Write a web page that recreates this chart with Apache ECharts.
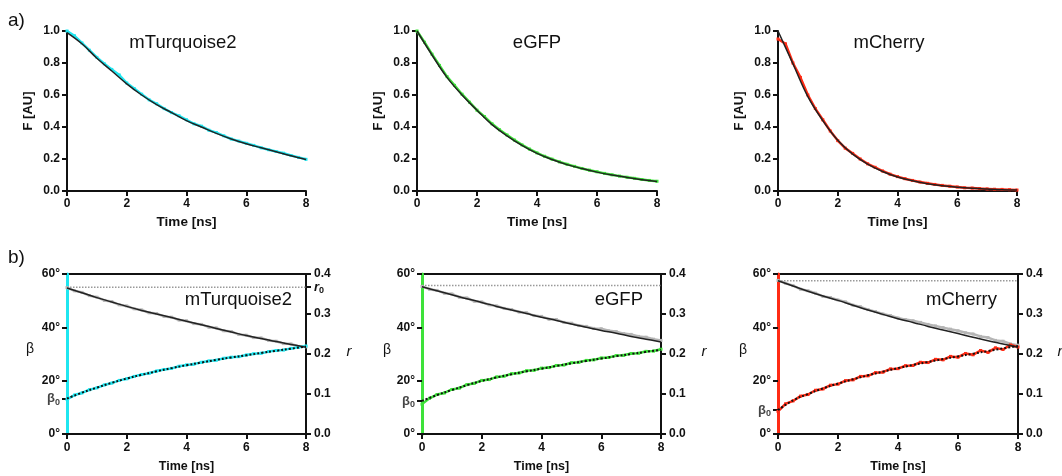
<!DOCTYPE html>
<html>
<head>
<meta charset="utf-8">
<script src="https://cdn.jsdelivr.net/npm/echarts@6/dist/echarts.min.js"></script>
<style>
  html, body { margin: 0; padding: 0; background: #fff; }
  #chart { width: 1062px; height: 476px; }
</style>
</head>
<body>
<div id="chart"></div>
<script>
const FONT = 'Liberation Sans, Arial, Helvetica, sans-serif'

const proteins = ['mTurquoise2', 'eGFP', 'mCherry']
const colors = ['#1fe6f0', '#3ee23a', '#ff2b14']

// time points (ns)
const tData = [0, 0.25, 0.5, 0.75, 1, 1.25, 1.5, 1.75, 2, 2.25, 2.5, 2.75, 3, 3.25, 3.5, 3.75, 4,
  4.25, 4.5, 4.75, 5, 5.25, 5.5, 5.75, 6, 6.25, 6.5, 6.75, 7, 7.25, 7.5, 7.75, 8]
const tFit = [0, 0.5, 1, 1.5, 2, 2.5, 3, 3.5, 4, 4.5, 5, 5.5, 6, 6.5, 7, 7.5, 8]

// a) fluorescence decays
const fDataTurq = [1.00, 0.97, 0.925, 0.88, 0.835, 0.795, 0.76, 0.725, 0.675, 0.64, 0.605, 0.57, 0.545, 0.515, 0.49, 0.47, 0.445,
  0.42, 0.405, 0.38, 0.365, 0.345, 0.325, 0.312, 0.298, 0.285, 0.27, 0.258, 0.247, 0.236, 0.222, 0.21, 0.198]
const fFitTurq = [0.99, 0.92, 0.83, 0.75, 0.67, 0.60, 0.54, 0.49, 0.44, 0.40, 0.36, 0.325, 0.295, 0.27, 0.245, 0.22, 0.197]

const fDataEgfp = [1.0, 0.93, 0.855, 0.785, 0.715, 0.66, 0.605, 0.555, 0.505, 0.465, 0.42, 0.383, 0.35, 0.318, 0.288, 0.262, 0.238,
  0.217, 0.199, 0.182, 0.167, 0.154, 0.141, 0.13, 0.12, 0.11, 0.101, 0.093, 0.086, 0.079, 0.072, 0.066, 0.061]
const fFitEgfp = [1.0, 0.85, 0.71, 0.60, 0.505, 0.415, 0.345, 0.285, 0.235, 0.197, 0.165, 0.14, 0.118, 0.10, 0.085, 0.071, 0.06]

const fDataCherry = [0.95, 0.92, 0.80, 0.71, 0.60, 0.515, 0.445, 0.375, 0.315, 0.268, 0.235, 0.2, 0.17, 0.148, 0.125, 0.105, 0.09,
  0.077, 0.066, 0.056, 0.048, 0.041, 0.035, 0.03, 0.025, 0.02, 0.018, 0.015, 0.013, 0.011, 0.01, 0.008, 0.006]
const fFitCherry = [1.0, 0.795, 0.59, 0.44, 0.317, 0.23, 0.168, 0.122, 0.088, 0.064, 0.046, 0.033, 0.024, 0.017, 0.012, 0.008, 0.006]

// b) anisotropy r (right axis) and angle beta (left axis)
const rDataTurq = [0.366, 0.358, 0.354, 0.346, 0.342, 0.334, 0.331, 0.323, 0.320, 0.313, 0.310, 0.303, 0.301, 0.294, 0.292, 0.285, 0.283,
  0.276, 0.274, 0.267, 0.265, 0.258, 0.256, 0.249, 0.247, 0.241, 0.240, 0.234, 0.232, 0.226, 0.225, 0.219, 0.218]
const rFitTurq = [0.365, 0.353, 0.341, 0.330, 0.319, 0.309, 0.300, 0.291, 0.282, 0.273, 0.264, 0.255, 0.246, 0.239, 0.231, 0.224, 0.217]
const bDataTurq = [13.0, 14.6, 15.4, 16.6, 17.3, 18.4, 19.1, 20.1, 20.7, 21.6, 22.3, 22.8, 23.6, 24.2, 24.6, 25.4, 25.9,
  26.2, 26.9, 27.4, 27.7, 28.4, 28.8, 29.0, 29.6, 30.1, 30.3, 30.9, 31.3, 31.5, 32.1, 32.5, 33.0]
const bFitTurq = [13.3, 15.5, 17.4, 19.2, 20.8, 22.2, 23.5, 24.7, 25.8, 26.8, 27.8, 28.7, 29.5, 30.4, 31.2, 32.0, 32.8]

const rDataEgfp = [0.369, 0.362, 0.359, 0.352, 0.350, 0.342, 0.340, 0.332, 0.330, 0.323, 0.320, 0.314, 0.311, 0.305, 0.303, 0.296, 0.294,
  0.287, 0.286, 0.279, 0.277, 0.271, 0.269, 0.264, 0.263, 0.258, 0.256, 0.251, 0.249, 0.244, 0.242, 0.237, 0.234]
const rFitEgfp = [0.368, 0.358, 0.348, 0.338, 0.329, 0.319, 0.310, 0.301, 0.292, 0.284, 0.275, 0.267, 0.259, 0.252, 0.244, 0.237, 0.230]
const bDataEgfp = [11.2, 13.4, 14.8, 15.4, 16.7, 17.2, 18.5, 19.0, 20.1, 20.4, 21.4, 21.7, 22.6, 22.9, 23.7, 23.9, 24.7,
  24.9, 25.7, 25.9, 26.7, 26.9, 27.6, 27.8, 28.5, 28.7, 29.4, 29.5, 30.2, 30.3, 31.0, 31.1, 31.8]
const bFitEgfp = [12.4, 14.6, 16.5, 18.3, 19.9, 21.2, 22.4, 23.5, 24.5, 25.5, 26.5, 27.4, 28.3, 29.2, 30.0, 30.8, 31.6]

const rDataCherry = [0.384, 0.377, 0.371, 0.362, 0.358, 0.352, 0.344, 0.341, 0.335, 0.330, 0.322, 0.318, 0.311, 0.306, 0.300, 0.296, 0.290,
  0.286, 0.283, 0.279, 0.274, 0.270, 0.266, 0.262, 0.258, 0.253, 0.250, 0.244, 0.241, 0.234, 0.232, 0.225, 0.222]
const rFitCherry = [0.383, 0.370, 0.357, 0.345, 0.334, 0.322, 0.310, 0.299, 0.288, 0.279, 0.269, 0.260, 0.251, 0.242, 0.233, 0.225, 0.217]
const bDataCherry = [8.5, 11.3, 12.4, 14.2, 14.8, 16.4, 16.9, 18.3, 18.7, 20.0, 20.3, 21.6, 21.8, 23.0, 23.2, 24.4, 24.5,
  25.6, 25.7, 26.9, 26.8, 28.0, 27.8, 29.1, 28.8, 30.2, 29.7, 31.3, 30.6, 32.3, 31.7, 33.4, 32.6]
const bFitCherry = [9.0, 12.6, 15.0, 17.1, 18.9, 20.5, 22.0, 23.4, 24.7, 25.9, 27.0, 28.1, 29.1, 30.1, 31.1, 32.1, 33.0]

const beta0 = [13.3, 12.4, 9.0]
const r0 = [0.367, 0.371, 0.383]

const fData = [fDataTurq, fDataEgfp, fDataCherry]
const fFit = [fFitTurq, fFitEgfp, fFitCherry]
const rData = [rDataTurq, rDataEgfp, rDataCherry]
const rFit = [rFitTurq, rFitEgfp, rFitCherry]
const bData = [bDataTurq, bDataEgfp, bDataCherry]
const bFit = [bFitTurq, bFitEgfp, bFitCherry]

const pairs = (xs, ys) => xs.map((x, i) => [x, ys[i]])

const black = '#111'
const tickLabel = { color: black, fontWeight: 'bold', fontSize: 12, fontFamily: FONT, margin: 7 }

const grids = [
  { left: 67, top: 31, width: 239, height: 160 },
  { left: 417, top: 31, width: 240, height: 160 },
  { left: 778, top: 31, width: 239, height: 160 },
  { left: 67, top: 274, width: 239, height: 160, show: true, borderColor: black, borderWidth: 2 },
  { left: 422, top: 274, width: 239, height: 160, show: true, borderColor: black, borderWidth: 2 },
  { left: 778, top: 274, width: 240, height: 160, show: true, borderColor: black, borderWidth: 2 }
]

const xAxes = grids.map((g, i) => ({
  gridIndex: i,
  type: 'value',
  min: 0,
  max: 8,
  interval: 2,
  axisLine: { lineStyle: { color: black, width: 2 } },
  axisTick: { length: 5, lineStyle: { color: black, width: 2 } },
  axisLabel: i < 3 ? tickLabel : Object.assign({}, tickLabel, { margin: 8 }),
  splitLine: { show: false },
  name: 'Time [ns]',
  nameLocation: 'middle',
  nameGap: i < 3 ? 24 : 26,
  nameTextStyle: { color: black, fontWeight: 'bold', fontSize: i < 3 ? 13.5 : 12.5, fontFamily: FONT }
}))

const yAxes = []
// top: F [AU]
for (let i = 0; i < 3; i++) {
  yAxes.push({
    gridIndex: i,
    type: 'value',
    min: 0,
    max: 1,
    interval: 0.2,
    axisLine: { show: true, lineStyle: { color: black, width: 2 } },
    axisTick: { show: true, length: 5, lineStyle: { color: black, width: 2 } },
    axisLabel: Object.assign({}, tickLabel, { formatter: v => v.toFixed(1) }),
    splitLine: { show: false },
    name: 'F [AU]',
    nameLocation: 'middle',
    nameGap: 32,
    nameTextStyle: { color: black, fontWeight: 'bold', fontSize: 13, fontFamily: FONT }
  })
}
// bottom left: beta
for (let i = 0; i < 3; i++) {
  const ticks = [0, beta0[i], 20, 40, 60]
  yAxes.push({
    gridIndex: i + 3,
    type: 'value',
    position: 'left',
    min: 0,
    max: 60,
    interval: 20,
    axisLine: { show: true, lineStyle: { color: colors[i], width: 3 } },
    axisTick: { show: true, customValues: ticks, length: 5, lineStyle: { color: black, width: 2 } },
    axisLabel: Object.assign({}, tickLabel, {
      customValues: ticks,
      formatter: v => v === beta0[i] ? '{b|β}{s|0}' : v + '°',
      rich: {
        b: { fontSize: 13, color: '#444', fontFamily: FONT },
        s: { fontSize: 9, color: '#444', fontFamily: FONT, padding: [7, 0, 0, 0] }
      }
    }),
    splitLine: { show: false }
  })
}
// bottom right: r
for (let i = 0; i < 3; i++) {
  const ticks = [0, 0.1, 0.2, 0.3, 0.4, r0[i]]
  yAxes.push({
    gridIndex: i + 3,
    type: 'value',
    position: 'right',
    min: 0,
    max: 0.4,
    interval: 0.1,
    axisLine: { show: true, lineStyle: { color: black, width: 2 } },
    axisTick: { show: true, customValues: ticks, length: 5, lineStyle: { color: black, width: 2 } },
    axisLabel: Object.assign({}, tickLabel, {
      margin: 8,
      customValues: ticks,
      formatter: v => v === r0[i] ? '{r|r}{s|0}' : v.toFixed(1),
      rich: {
        r: { fontSize: 13, fontStyle: 'italic', color: black, fontFamily: FONT },
        s: { fontSize: 9, color: black, fontFamily: FONT, padding: [6, 0, 0, 0] }
      }
    }),
    splitLine: { show: false }
  })
}

// data drawn at z 2, fits above at z 3
const series = []
for (let i = 0; i < 3; i++) {
  series.push({
    type: 'line', xAxisIndex: i, yAxisIndex: i, z: 2,
    data: pairs(tData, fData[i]),
    symbol: 'rect', symbolSize: 3, showSymbol: true,
    itemStyle: { color: colors[i] },
    lineStyle: { color: colors[i], width: 2.5 }
  })
  series.push({
    type: 'line', xAxisIndex: i, yAxisIndex: i, z: 3,
    data: pairs(tFit, fFit[i]),
    smooth: 0.4, symbol: 'none',
    lineStyle: { color: '#222', width: 1.5 }
  })
}
for (let i = 0; i < 3; i++) {
  const g = i + 3
  series.push({
    type: 'line', xAxisIndex: g, yAxisIndex: i + 6, z: 2,
    data: [[0, r0[i]], [8, r0[i]]],
    symbol: 'none',
    lineStyle: { color: '#999', width: 1.5, type: 'dotted' }
  })
  series.push({
    type: 'line', xAxisIndex: g, yAxisIndex: i + 6, z: 2,
    data: pairs(tData, rData[i]),
    symbol: 'rect', symbolSize: 3, showSymbol: true,
    itemStyle: { color: '#b5b5b5' },
    lineStyle: { color: '#b5b5b5', width: 2.5 }
  })
  series.push({
    type: 'line', xAxisIndex: g, yAxisIndex: i + 6, z: 3,
    data: pairs(tFit, rFit[i]),
    smooth: 0.4, symbol: 'none',
    lineStyle: { color: '#222', width: 1.5 }
  })
  series.push({
    type: 'line', xAxisIndex: g, yAxisIndex: i + 3, z: 2,
    data: pairs(tData, bData[i]),
    symbol: 'rect', symbolSize: 3, showSymbol: true,
    itemStyle: { color: colors[i] },
    lineStyle: { color: colors[i], width: 2.5 }
  })
  series.push({
    type: 'line', xAxisIndex: g, yAxisIndex: i + 3, z: 3,
    data: pairs(tFit, bFit[i]),
    smooth: 0.4, symbol: 'none',
    lineStyle: { color: '#111', width: 2, type: 'dotted' }
  })
}

const text = (x, y, str, font, align) => ({
  type: 'text', x, y, silent: true,
  style: { text: str, font: font + ' ' + FONT, fill: black, align: align || 'center', verticalAlign: 'middle' }
})

const graphic = [
  text(8, 21, 'a)', '19px', 'left'),
  text(8, 258, 'b)', '19px', 'left'),
  text(183, 43, proteins[0], '18.5px'),
  text(537, 43, proteins[1], '18.5px'),
  text(889, 43, proteins[2], '18.5px'),
  text(292, 300, proteins[0], '18.5px', 'right'),
  text(643, 300, proteins[1], '18.5px', 'right'),
  text(997, 300, proteins[2], '18.5px', 'right'),
  text(30, 349, 'β', '14px'),
  text(387, 350, 'β', '14px'),
  text(743, 350, 'β', '14px'),
  text(349, 352, 'r', 'italic 15px'),
  text(704, 352, 'r', 'italic 15px'),
  text(1060, 352, 'r', 'italic 15px')
]

const chart = echarts.init(document.getElementById('chart'))
chart.setOption({
  animation: false,
  backgroundColor: '#fff',
  grid: grids,
  xAxis: xAxes,
  yAxis: yAxes,
  series: series,
  graphic: graphic
})
</script>
</body>
</html>
